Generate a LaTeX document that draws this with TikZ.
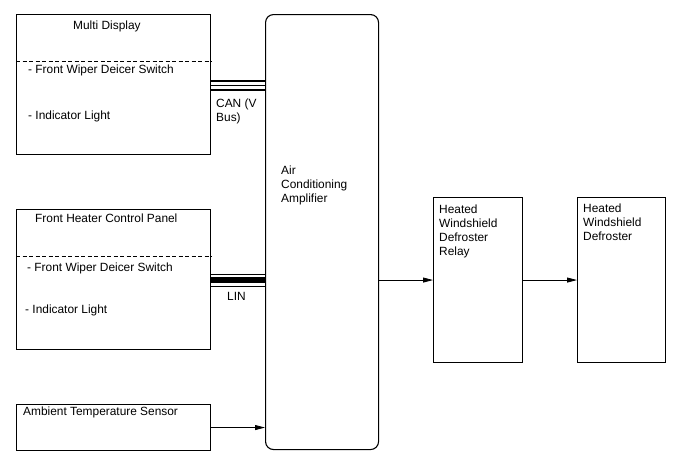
\documentclass[tikz,border=0pt]{standalone}
\usepackage{fontspec}
\setmainfont{Liberation Sans}
\usetikzlibrary{arrows.meta}

\tikzset{
  unit/.style={draw, line width=1.1pt, anchor=north west, inner sep=0pt},
  txt/.style={anchor=base west, inner sep=0pt, align=left},
  sep/.style={dashed, dash pattern=on 4pt off 2.5pt, line width=0.6pt},
  sig/.style={line width=0.8pt, -{Triangle[length=10pt,width=5pt]}}
}

\begin{document}
\begin{tikzpicture}[x=1pt,y=-1pt,font=\fontsize{11.9}{14}\selectfont]
				\useasboundingbox (0,0) rectangle (688,463);
				% boxes
				\node[unit, minimum width=194pt, minimum height=140pt] (md) at (16,14) {};
				\node[unit, minimum width=194pt, minimum height=140pt] (fh) at (16,209) {};
				\node[unit, minimum width=194pt, minimum height=46pt] (ats) at (16,404) {};
				\node[unit, rounded corners=8pt, minimum width=113pt, minimum height=435pt] (amp) at (265,14) {};
				\node[unit, minimum width=89pt, minimum height=165pt] (relay) at (433,197) {};
				\node[unit, minimum width=88pt, minimum height=165pt] (defr) at (577,197) {};
				% dashed dividers
				\draw[sep] ([yshift=-47pt]md.north west) -- ([yshift=-47pt]md.north east);
				\draw[sep] ([yshift=-47pt]fh.north west) -- ([yshift=-47pt]fh.north east);
				% texts (base = last line)
				\node[txt] (mdt) at (73,29) {Multi Display};
				\node[txt] (mds) at (28,73) {- Front Wiper Deicer Switch};
				\node[txt] (mdl) at (28,119) {- Indicator Light};
				\node[txt] (fht) at (35,222) {Front Heater Control Panel};
				\node[txt] (fhs) at (27,271) {- Front Wiper Deicer Switch};
				\node[txt] (fhl) at (25,313) {- Indicator Light};
				\node[txt] (atst) at (23,415) {Ambient Temperature Sensor};
				\node[txt] (ampt) at (281,202) {Air\\Conditioning\\Amplifier};
				\node[txt] (relayt) at (439,255) {Heated\\Windshield\\Defroster\\Relay};
				\node[txt] (defrt) at (583,240) {Heated\\Windshield\\Defroster};
				\node[txt] (can) at (216,121) {CAN (V\\Bus)};
				\node[txt] (lin) at (227,300) {LIN};
				% CAN bus
				\draw[line width=2pt] ([yshift=4pt]md.east) -- ([yshift=4pt]md.east -| amp.west);
				\draw[line width=1pt] ([yshift=-0.5pt]md.east) -- ([yshift=-0.5pt]md.east -| amp.west);
				\draw[line width=2pt] ([yshift=-5pt]md.east) -- ([yshift=-5pt]md.east -| amp.west);
				% LIN bus
				\draw[line width=0.8pt] ([yshift=5pt]fh.east) -- ([yshift=5pt]fh.east -| amp.west);
				\draw[line width=6pt] ([yshift=-0.8pt]fh.east) -- ([yshift=-0.8pt]fh.east -| amp.west);
				\draw[line width=0.8pt] ([yshift=-6.5pt]fh.east) -- ([yshift=-6.5pt]fh.east -| amp.west);
				% signals
				\draw[sig] (ats.east) -- (ats.east -| amp.west);
				\draw[sig] (relay.west -| amp.east) -- (relay.west);
				\draw[sig] (relay.east) -- (defr.west);
			\end{tikzpicture}
\end{document}
